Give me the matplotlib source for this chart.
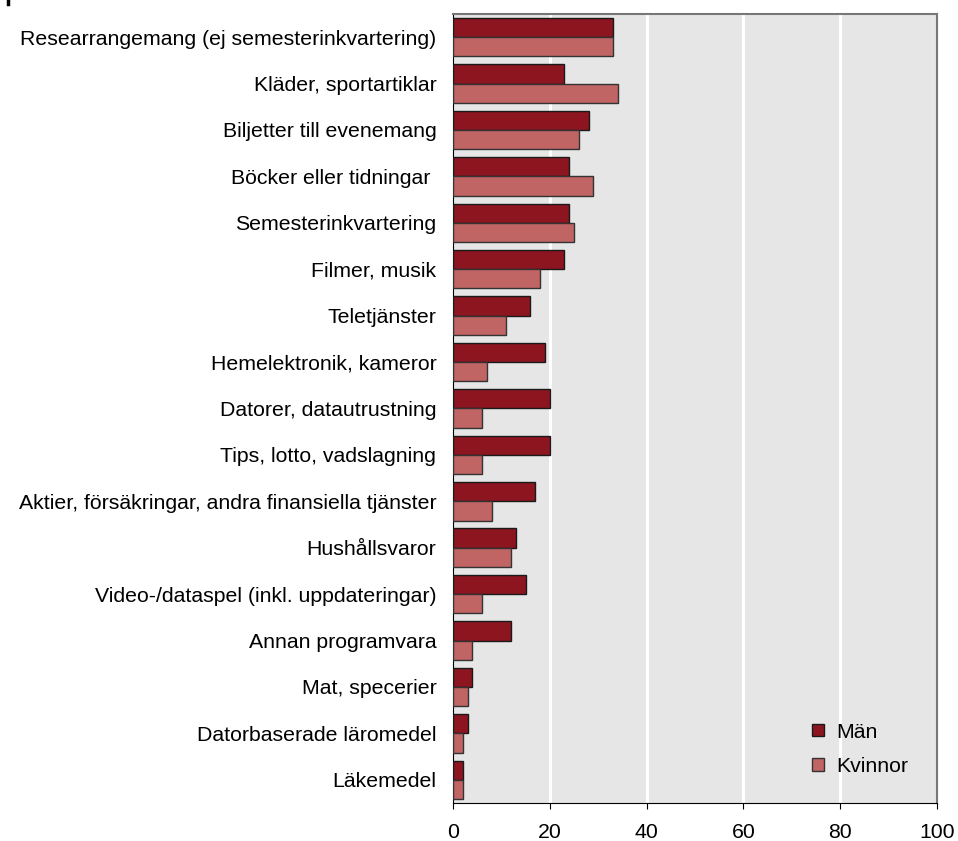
import numpy as np
import matplotlib.pyplot as plt
from matplotlib.lines import Line2D

plt.rcParams['font.family'] = ['Liberation Sans', 'DejaVu Sans']

categories = [
    'Researrangemang (ej semesterinkvartering)',
    'Kläder, sportartiklar',
    'Biljetter till evenemang',
    'Böcker eller tidningar ',
    'Semesterinkvartering',
    'Filmer, musik',
    'Teletjänster',
    'Hemelektronik, kameror',
    'Datorer, datautrustning',
    'Tips, lotto, vadslagning',
    'Aktier, försäkringar, andra finansiella tjänster',
    'Hushållsvaror',
    'Video-/dataspel (inkl. uppdateringar)',
    'Annan programvara',
    'Mat, specerier',
    'Datorbaserade läromedel',
    'Läkemedel',
]
man = [33, 23, 28, 24, 24, 23, 16, 19, 20, 20, 17, 13, 15, 12, 4, 3, 2]
kvinnor = [33, 34, 26, 29, 25, 18, 11, 7, 6, 6, 8, 12, 6, 4, 3, 2, 2]
xticks = [0, 20, 40, 60, 80, 100]

c_man = '#8c1520'
c_kv = '#c06464'
fs = 15.3

fig = plt.figure(figsize=(9.58, 8.41), dpi=100)
ax = fig.add_axes([0.4729, 0.0452, 0.5052, 0.9382])
ax.set_facecolor('#e6e6e6')

y = np.arange(len(categories))
h = 0.415
ax.barh(y - h / 2, man, height=h, color=c_man, edgecolor='#1a1a1a', linewidth=1, label='Män', zorder=3)
ax.barh(y + h / 2, kvinnor, height=h, color=c_kv, edgecolor='#333333', linewidth=1, label='Kvinnor', zorder=3)

ax.set_xlim(0, 100)
ax.set_ylim(len(categories) - 0.5, -0.5)
ax.set_xticks(xticks)
ax.set_yticks(y)
ax.set_yticklabels(categories)
ax.tick_params(axis='y', length=0, pad=12, labelsize=fs)
ax.tick_params(axis='x', length=4.5, direction='out', pad=10, labelsize=fs)

# white vertical gridlines
for v in xticks[1:-1]:
    ax.axvline(v, color='white', linewidth=2.2, zorder=1)

ax.spines['left'].set_color('black')
ax.spines['bottom'].set_color('black')
ax.spines['top'].set_color('#777777')
ax.spines['top'].set_linewidth(1.5)
ax.spines['right'].set_color('#777777')
ax.spines['right'].set_linewidth(1.5)

ax.legend(loc='upper left', bbox_to_anchor=(0.742, 0.102), frameon=False,
          borderaxespad=0, borderpad=0, fontsize=fs, handlelength=0.55,
          handleheight=0.55, handletextpad=0.6, labelspacing=0.74)

# small dark mark in the top-left corner
fig.add_artist(Line2D([0.0085, 0.0085], [0.995, 1.0], color='black', linewidth=2.5))

fig.savefig('out.png', dpi=100)
